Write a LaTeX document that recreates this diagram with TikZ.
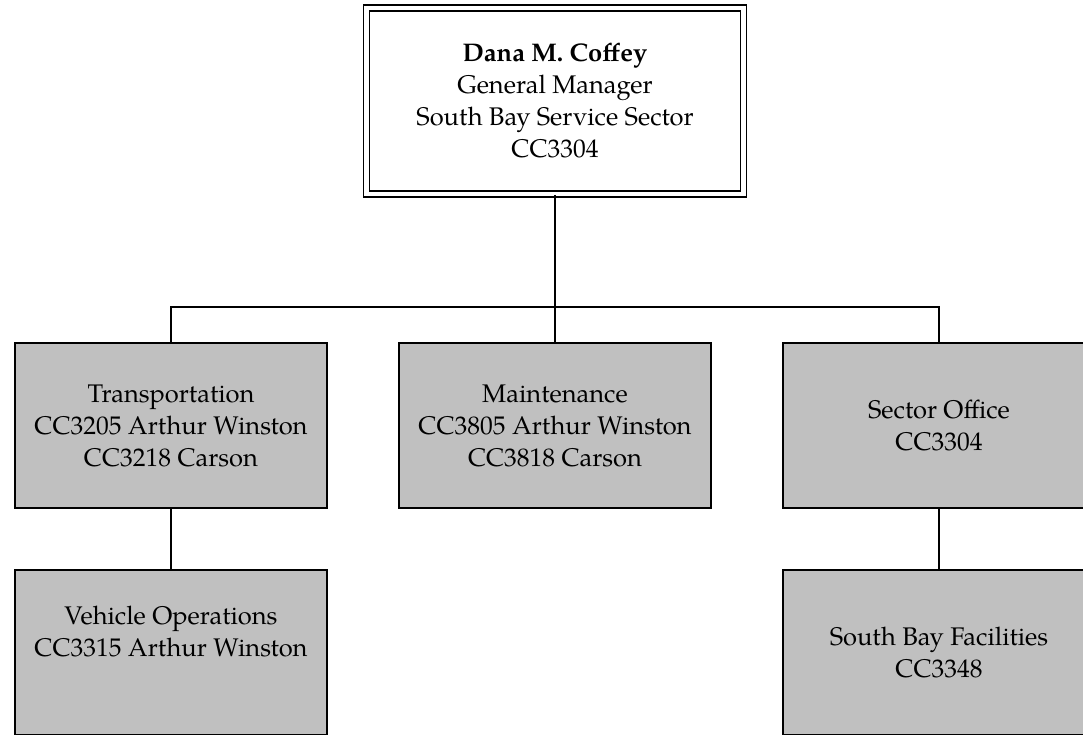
\documentclass[tikz,border=0pt]{standalone}
\usepackage{fontspec}
\setmainfont{texgyrepagella}[Extension=.otf,UprightFont=*-regular,BoldFont=*-bold]
\tikzset{
  unit/.style={x=1pt,y=-1pt},
  orgbox/.style={draw=black,line width=1.6pt,fill=boxgray,rectangle,
    minimum width=312pt,minimum height=165pt,align=center,inner sep=0pt,
    font=\fontsize{25.5}{32}\selectfont},
  topbox/.style={draw=black,line width=1.8pt,double=white,double distance=4.2pt,
    rectangle,minimum width=377pt,minimum height=186pt,align=center,inner sep=0pt,
    font=\fontsize{25.5}{32}\selectfont},
  conn/.style={draw=black,line width=1.6pt}
}
\definecolor{boxgray}{HTML}{C0C0C0}
\begin{document}
\begin{tikzpicture}[unit]
\useasboundingbox (0,0) rectangle (1083,735);
\fill[white] (0,0) rectangle (1083,735);
\clip (0,0) rectangle (1083,735);
\node[topbox] (top) at (555,101) {\textbf{Dana M. Coffey}\\General Manager\\South Bay Service Sector\\CC3304};
\node[orgbox] (t) at (171,425.5) {Transportation\\CC3205 Arthur Winston\\CC3218 Carson};
\node[orgbox] (m) at (555,425.5) {Maintenance\\CC3805 Arthur Winston\\CC3818 Carson};
\node[orgbox] (s) at (939,425.5) {Sector Office\\CC3304};
\node[orgbox] (v) at (171,652.5) {Vehicle Operations\\CC3315 Arthur Winston\\\strut};
\node[orgbox] (f) at (939,652.5) {South Bay Facilities\\CC3348};
\coordinate (busL) at (171,307);
\coordinate (busR) at (939,307);
\draw[conn] (top.south) -- (m.north);
\draw[conn] (t.north) -- (busL) -- (busR) -- (s.north);
\draw[conn] (t.south) -- (v.north);
\draw[conn] (s.south) -- (f.north);
\end{tikzpicture}
\end{document}
